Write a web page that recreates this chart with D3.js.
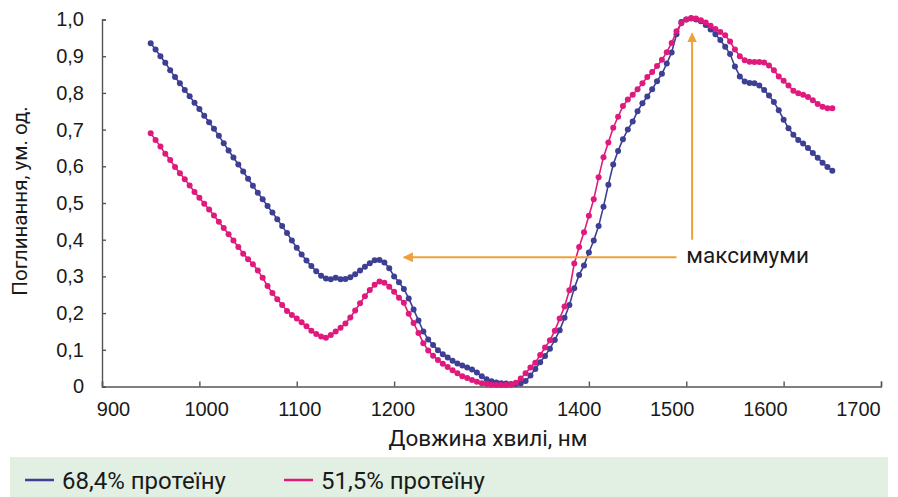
<!DOCTYPE html>
<meta charset="utf-8">
<style>
body { margin: 0; background: #fff; }
svg { display: block; font-family: Roboto, "Noto Sans", sans-serif; }
.axis path, .axis line { stroke: #555; stroke-width: 1.4px; }
.axis text { fill: #1a1a1a; font-size: 20px; }
.line { fill: none; stroke-width: 1.6px; }
.title { fill: #1a1a1a; font-size: 20.5px; }
.big { font-size: 22.5px; }
.legend { font-size: 24px; }
</style>
<svg width="898" height="497"></svg>
<script src="https://d3js.org/d3.v7.min.js"></script>
<script>
// wavelength grid, nm
var wavelengths = [
  950, 955, 960, 965, 970, 975, 980, 985, 990, 995,
  1000, 1005, 1010, 1015, 1020, 1025, 1030, 1035, 1040, 1045,
  1050, 1055, 1060, 1065, 1070, 1075, 1080, 1085, 1090, 1095,
  1100, 1105, 1110, 1115, 1120, 1125, 1130, 1135, 1140, 1145,
  1150, 1155, 1160, 1165, 1170, 1175, 1180, 1185, 1190, 1195,
  1200, 1205, 1210, 1215, 1220, 1225, 1230, 1235, 1240, 1245,
  1250, 1255, 1260, 1265, 1270, 1275, 1280, 1285, 1290, 1295,
  1300, 1305, 1310, 1315, 1320, 1325, 1330, 1335, 1340, 1345,
  1350, 1355, 1360, 1365, 1370, 1375, 1380, 1385, 1390, 1395,
  1400, 1405, 1410, 1415, 1420, 1425, 1430, 1435, 1440, 1445,
  1450, 1455, 1460, 1465, 1470, 1475, 1480, 1485, 1490, 1495,
  1500, 1505, 1510, 1515, 1520, 1525, 1530, 1535, 1540, 1545,
  1550, 1555, 1560, 1565, 1570, 1575, 1580, 1585, 1590, 1595,
  1600, 1605, 1610, 1615, 1620, 1625, 1630, 1635, 1640, 1645,
  1650
];

// 68,4% протеїну
var protein684 = [
  0.935, 0.918, 0.900, 0.882, 0.862, 0.843, 0.826, 0.808, 0.791, 0.773,
  0.756, 0.738, 0.720, 0.702, 0.683, 0.663, 0.643, 0.624, 0.605, 0.586,
  0.566, 0.547, 0.528, 0.510, 0.492, 0.474, 0.456, 0.437, 0.418, 0.398,
  0.378, 0.360, 0.343, 0.328, 0.314, 0.302, 0.294, 0.292, 0.296, 0.292,
  0.293, 0.298, 0.306, 0.316, 0.326, 0.336, 0.344, 0.345, 0.338, 0.322,
  0.300, 0.284, 0.266, 0.240, 0.210, 0.180, 0.150, 0.128, 0.113, 0.099,
  0.088, 0.079, 0.070, 0.063, 0.057, 0.052, 0.046, 0.038, 0.028, 0.020,
  0.014, 0.011, 0.009, 0.008, 0.007, 0.007, 0.008, 0.015, 0.030, 0.048,
  0.066, 0.083, 0.103, 0.127, 0.153, 0.187, 0.222, 0.268, 0.304, 0.330,
  0.365, 0.398, 0.437, 0.490, 0.550, 0.605, 0.642, 0.674, 0.700, 0.722,
  0.750, 0.772, 0.790, 0.810, 0.832, 0.852, 0.880, 0.910, 0.960, 0.993,
  1.000, 1.003, 1.000, 0.995, 0.985, 0.973, 0.960, 0.944, 0.926, 0.906,
  0.872, 0.845, 0.831, 0.827, 0.826, 0.820, 0.808, 0.793, 0.775, 0.753,
  0.727, 0.704, 0.686, 0.672, 0.662, 0.650, 0.636, 0.623, 0.610, 0.598,
  0.588
];

// 51,5% протеїну
var protein515 = [
  0.690, 0.672, 0.654, 0.634, 0.617, 0.598, 0.581, 0.565, 0.548, 0.530,
  0.514, 0.498, 0.482, 0.466, 0.449, 0.432, 0.415, 0.398, 0.380, 0.362,
  0.347, 0.333, 0.316, 0.296, 0.274, 0.255, 0.238, 0.222, 0.206, 0.195,
  0.185, 0.175, 0.164, 0.152, 0.143, 0.136, 0.133, 0.140, 0.150, 0.160,
  0.172, 0.188, 0.207, 0.227, 0.246, 0.263, 0.277, 0.286, 0.283, 0.272,
  0.258, 0.242, 0.228, 0.198, 0.173, 0.146, 0.118, 0.098, 0.084, 0.072,
  0.062, 0.053, 0.044, 0.036, 0.028, 0.023, 0.018, 0.013, 0.009, 0.007,
  0.005, 0.004, 0.004, 0.004, 0.005, 0.010, 0.022, 0.036, 0.052, 0.065,
  0.086, 0.106, 0.126, 0.152, 0.185, 0.218, 0.262, 0.335, 0.380, 0.420,
  0.465, 0.510, 0.570, 0.625, 0.665, 0.705, 0.735, 0.764, 0.782, 0.795,
  0.810, 0.826, 0.843, 0.857, 0.873, 0.890, 0.911, 0.936, 0.968, 0.990,
  1.000, 1.004, 1.003, 0.998, 0.992, 0.983, 0.974, 0.966, 0.957, 0.940,
  0.918, 0.900, 0.889, 0.885, 0.884, 0.884, 0.883, 0.875, 0.862, 0.845,
  0.833, 0.820, 0.806, 0.799, 0.795, 0.789, 0.780, 0.770, 0.762, 0.758,
  0.758
];

var xTicks = [900, 1000, 1100, 1200, 1300, 1400, 1500, 1600, 1700];
var yTicks = [0, 0.1, 0.2, 0.3, 0.4, 0.5, 0.6, 0.7, 0.8, 0.9, 1.0];

var seriesNames = ["68,4% протеїну", "51,5% протеїну"];
var seriesColors = ["#3c3f93", "#e01a7c"];
var annotationText = "максимуми";

var svg = d3.select("svg");

var x = d3.scaleLinear().domain([900, 1700]).range([102, 881]);
// tick labels in the source sit on a slightly narrower span than the tick marks
var xLabel = d3.scaleLinear().domain([900, 1700]).range([113, 858]);
var y = d3.scaleLinear().domain([0, 1]).range([386.5, 19.5]);

var fmt = function(d) { return d === 0 ? "0" : d3.format(".1f")(d).replace(".", ","); };

// legend band
svg.append("rect")
    .attr("x", 10).attr("y", 457)
    .attr("width", 878).attr("height", 40)
    .attr("fill", "#e2f0e4");

// x axis: marks inside, labels separately
svg.append("g")
    .attr("class", "axis")
    .attr("transform", "translate(0," + y(0) + ")")
    .call(d3.axisBottom(x).tickValues(xTicks).tickSize(-5).tickSizeOuter(-5).tickFormat(""));

svg.append("g")
    .attr("class", "axis")
    .attr("transform", "translate(0," + y(0) + ")")
    .call(d3.axisBottom(xLabel).tickValues(xTicks).tickSize(0).tickPadding(15).tickFormat(d3.format("d")))
    .call(function(g) { g.select(".domain").remove(); });

svg.append("g")
    .attr("class", "axis")
    .attr("transform", "translate(" + x(900) + ",0)")
    .call(d3.axisLeft(y).tickValues(yTicks).tickSize(-4).tickSizeOuter(-4).tickPadding(18).tickFormat(fmt));

// axis titles
svg.append("text")
    .attr("class", "title big")
    .attr("x", 488).attr("y", 446)
    .attr("text-anchor", "middle")
    .text("Довжина хвилі, нм");

svg.append("text")
    .attr("class", "title")
    .attr("transform", "translate(27,201) rotate(-90)")
    .attr("text-anchor", "middle")
    .text("Поглинання, ум. од.");

// series
var series = [protein684, protein515];
var line = d3.line()
    .x(function(d, i) { return x(wavelengths[i]); })
    .y(function(d) { return y(d); });

series.forEach(function(values, k) {
  svg.append("path")
      .datum(values)
      .attr("class", "line")
      .attr("stroke", seriesColors[k])
      .attr("d", line);

  svg.append("g")
      .selectAll("circle")
      .data(values)
      .join("circle")
      .attr("cx", function(d, i) { return x(wavelengths[i]); })
      .attr("cy", function(d) { return y(d); })
      .attr("r", 3)
      .attr("fill", seriesColors[k]);
});

// annotation arrows
var orange = "#f0a03a";
svg.append("defs").append("marker")
    .attr("id", "head")
    .attr("viewBox", "0 0 10 10")
    .attr("refX", 9).attr("refY", 5)
    .attr("markerWidth", 5).attr("markerHeight", 5)
    .attr("orient", "auto")
  .append("path")
    .attr("d", "M0,0L10,5L0,10Z")
    .attr("fill", orange);

svg.append("line")
    .attr("x1", x(1490)).attr("y1", y(0.352))
    .attr("x2", x(1210)).attr("y2", y(0.352))
    .attr("stroke", orange).attr("stroke-width", 2)
    .attr("marker-end", "url(#head)");

svg.append("line")
    .attr("x1", x(1506)).attr("y1", y(0.4))
    .attr("x2", x(1506)).attr("y2", y(0.962))
    .attr("stroke", orange).attr("stroke-width", 2)
    .attr("marker-end", "url(#head)");

svg.append("text")
    .attr("class", "title big")
    .attr("x", x(1500)).attr("y", y(0.336))
    .text(annotationText);

// legend
var legend = svg.append("g");
[25, 284].forEach(function(lx, k) {
  legend.append("line")
      .attr("x1", lx).attr("x2", lx + 29)
      .attr("y1", 480).attr("y2", 480)
      .attr("stroke", seriesColors[k]).attr("stroke-width", 2.5);
  legend.append("text")
      .attr("class", "title legend")
      .attr("x", lx + 37).attr("y", 489)
      .text(seriesNames[k]);
});
</script>
